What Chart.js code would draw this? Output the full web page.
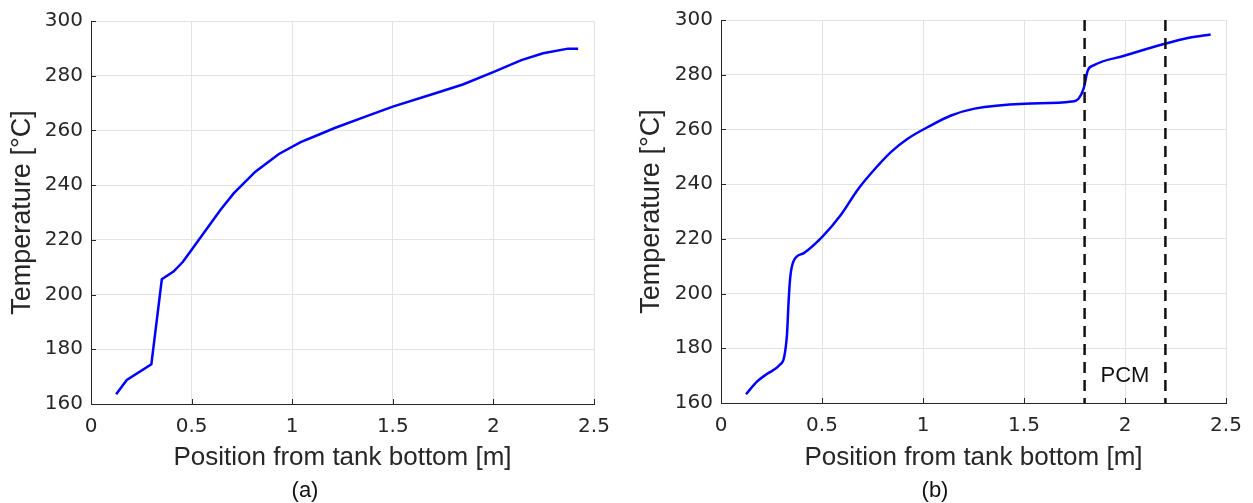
<!DOCTYPE html>
<html>
<head>
<meta charset="utf-8">
<script src="https://cdn.jsdelivr.net/npm/chart.js@4.4.1/dist/chart.umd.min.js"></script>
<style>
  html, body { margin: 0; padding: 0; background: #fff; }
  body { width: 1253px; height: 503px; position: relative; overflow: hidden; }
  .panel { position: absolute; top: 0; height: 503px; }
  .cap { position: absolute; top: 477px; font: 22px "Liberation Sans", Arial, sans-serif; color: #111; transform: translateX(-50%); }
</style>
</head>
<body>
<div class="panel" style="left:0;width:626px"><canvas id="chartA" width="626" height="503"></canvas></div>
<div class="panel" style="left:626px;width:627px"><canvas id="chartB" width="627" height="503"></canvas></div>
<div class="cap" style="left:305px">(a)</div>
<div class="cap" style="left:935px">(b)</div>
<script>
// (a) without PCM
const posA = [0.125, 0.178, 0.30, 0.352, 0.41, 0.457, 0.502, 0.643, 0.709, 0.817, 0.934, 1.042, 1.14, 1.208, 1.374, 1.5, 1.70, 1.848, 2.005, 2.139, 2.247, 2.371, 2.421];
const tempA = [163.6, 168.8, 174.5, 205.6, 208.4, 212.0, 216.6, 230.9, 237.0, 244.9, 251.4, 255.7, 258.7, 260.8, 265.3, 268.7, 273.3, 276.8, 281.5, 285.7, 288.2, 289.9, 289.9];

// (b) with PCM layer
const posB = [0.124, 0.178, 0.227, 0.29, 0.313, 0.327, 0.335, 0.343, 0.36, 0.41, 0.501, 0.592, 0.675, 0.741, 0.841, 0.924, 1.04, 1.139, 1.255, 1.504, 1.736, 1.77, 1.795, 1.816, 1.844, 2.0, 2.197, 2.317, 2.424];
const tempB = [163.2, 167.8, 170.6, 173.9, 176.9, 185.4, 197.6, 206.1, 212.0, 214.8, 220.7, 228.6, 237.8, 243.8, 251.7, 256.6, 261.5, 265.1, 267.6, 269.4, 270.2, 271.2, 274.9, 281.6, 283.4, 287.0, 291.3, 293.5, 294.7];

// PCM boundaries and label
const pcmBounds = [1.8, 2.2];
const pcmLabel = 'PCM';
const pcmLabelAt = [2.0, 170];

const xTicks = [0, 0.5, 1, 1.5, 2, 2.5];
const yTicks = [160, 180, 200, 220, 240, 260, 280, 300];
const xTitle = 'Position from tank bottom [m]';
const yTitle = 'Temperature [°C]';

const ink = '#262626';

// MATLAB style ticks pointing into the plot
const inwardTicks = {
    id: 'inwardTicks',
    beforeDatasetsDraw(chart) {
        const { ctx, chartArea, scales: { x, y } } = chart;
        ctx.save();
        ctx.strokeStyle = ink;
        ctx.lineWidth = 1;
        ctx.beginPath();
        x.ticks.forEach(t => {
            const px = Math.round(x.getPixelForValue(t.value)) + 0.5;
            ctx.moveTo(px, chartArea.bottom);
            ctx.lineTo(px, chartArea.bottom - 5);
        });
        y.ticks.forEach(t => {
            const py = Math.round(y.getPixelForValue(t.value)) + 0.5;
            ctx.moveTo(chartArea.left, py);
            ctx.lineTo(chartArea.left + 5, py);
        });
        ctx.stroke();
        ctx.restore();
    }
};

const pcmText = {
    id: 'pcmText',
    afterDatasetsDraw(chart) {
        const { ctx, scales: { x, y } } = chart;
        ctx.save();
        ctx.font = '22px "Liberation Sans", Arial, sans-serif';
        ctx.fillStyle = '#111';
        ctx.textAlign = 'center';
        ctx.textBaseline = 'middle';
        ctx.fillText(pcmLabel, x.getPixelForValue(pcmLabelAt[0]), y.getPixelForValue(pcmLabelAt[1]));
        ctx.restore();
    }
};

function makeChart(id, xs, ys, layout, extra) {
    const datasets = [];
    if (extra) {
        pcmBounds.forEach(b => {
            datasets.push({
                data: [{ x: b, y: yTicks[yTicks.length - 1] }, { x: b, y: yTicks[0] }],
                borderColor: '#111',
                borderWidth: 2.5,
                borderDash: [11, 7],
                pointRadius: 0,
                tension: 0
            });
        });
    }
    datasets.push({
        data: xs.map((v, i) => ({ x: v, y: ys[i] })),
        borderColor: '#0000ff',
        borderWidth: 2.5,
        pointRadius: 0,
        tension: 0,
        cubicInterpolationMode: extra ? 'monotone' : 'default'
    });

    new Chart(document.getElementById(id), {
        type: 'line',
        data: { datasets: datasets },
        options: {
            responsive: false,
            animation: false,
            events: [],
            layout: { padding: layout.padding },
            plugins: { legend: { display: false }, tooltip: { enabled: false } },
            scales: {
                x: {
                    type: 'linear',
                    min: xTicks[0],
                    max: xTicks[xTicks.length - 1],
                    afterBuildTicks: s => { s.ticks = xTicks.map(v => ({ value: v })); },
                    afterFit: s => { s.height = layout.xHeight; },
                    grid: { color: '#e3e3e3', drawTicks: false },
                    border: { color: ink, width: 1 },
                    ticks: {
                        padding: 11,
                        color: ink,
                        font: { family: 'DejaVu Sans', size: 20 },
                        maxRotation: 0,
                        callback: v => String(v)
                    },
                    title: {
                        display: true,
                        text: xTitle,
                        color: ink,
                        font: { family: 'Liberation Sans', size: 26 },
                        padding: { top: 0, bottom: 30 }
                    }
                },
                y: {
                    type: 'linear',
                    min: yTicks[0],
                    max: yTicks[yTicks.length - 1],
                    afterBuildTicks: s => { s.ticks = yTicks.map(v => ({ value: v })); },
                    afterFit: s => { s.width = layout.yWidth; },
                    grid: { color: '#e3e3e3', drawTicks: false },
                    border: { color: ink, width: 1 },
                    ticks: {
                        padding: 8,
                        color: ink,
                        font: { family: 'DejaVu Sans', size: 20 },
                        callback: v => String(v)
                    },
                    title: {
                        display: true,
                        text: yTitle,
                        color: ink,
                        font: { family: 'Liberation Sans', size: 27 },
                        padding: { top: layout.yTitlePad, bottom: 0 }
                    }
                }
            }
        },
        plugins: extra ? [inwardTicks, pcmText] : [inwardTicks]
    });
}

makeChart('chartA', posA, tempA, {
    padding: { left: 0, top: 21, right: 32, bottom: 0 },
    xHeight: 99, yWidth: 91, yTitlePad: 6
}, false);

makeChart('chartB', posB, tempB, {
    padding: { left: 0, top: 19, right: 27, bottom: 0 },
    xHeight: 100, yWidth: 95, yTitlePad: 9
}, true);
</script>
</body>
</html>
